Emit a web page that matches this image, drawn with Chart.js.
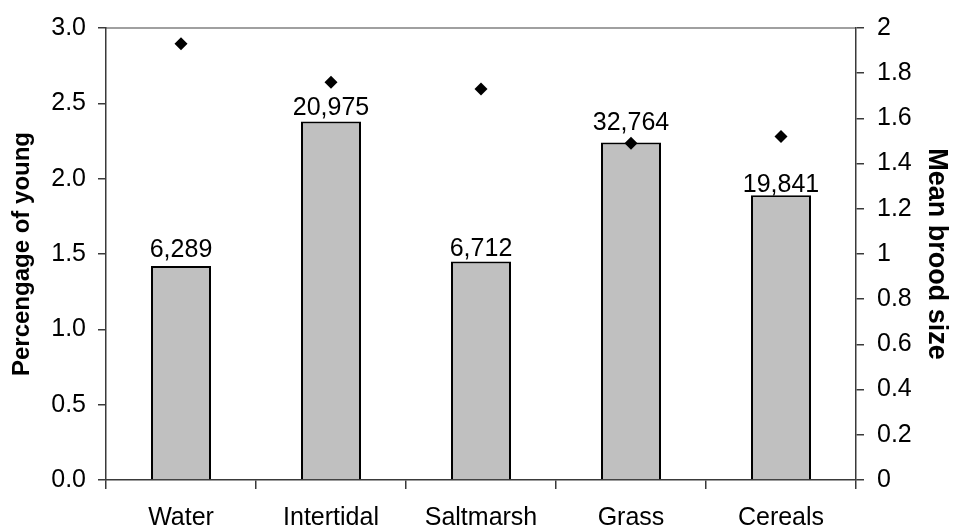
<!DOCTYPE html>
<html>
<head>
<meta charset="utf-8">
<script src="https://cdn.jsdelivr.net/npm/chart.js@4/dist/chart.umd.min.js"></script>
<style>
  html, body { margin: 0; padding: 0; background: #fff; }
  #wrap { width: 953px; height: 528px; }
</style>
</head>
<body>
<div id="wrap"><canvas id="chart" width="953" height="528"></canvas></div>
<script>
// habitat categories
const habitats = ['Water', 'Intertidal', 'Saltmarsh', 'Grass', 'Cereals'];
// percentage of young (left axis, bars)
const youngPct = [1.42, 2.38, 1.45, 2.24, 1.89];
// mean brood size (right axis, diamonds)
const broodSize = [1.93, 1.76, 1.73, 1.49, 1.52];
// number of birds counted, printed above each bar
const birdCounts = ['6,289', '20,975', '6,712', '32,764', '19,841'];

const FONT = "'Liberation Sans', Arial, sans-serif";
const AXIS = '#3a3a3a';

// count labels above the bars, plus the light top frame line
const countLabels = {
  id: 'countLabels',
  afterDatasetsDraw(chart, args, opts) {
    const { ctx } = chart;
    const barIndex = chart.data.datasets.findIndex(d => d.type === 'bar');
    const meta = chart.getDatasetMeta(barIndex);
    ctx.save();
    ctx.font = '25px ' + FONT;
    ctx.fillStyle = '#000';
    ctx.textAlign = 'center';
    ctx.textBaseline = 'alphabetic';
    meta.data.forEach((bar, i) => {
      const lift = opts.lift[i] ?? 6;
      ctx.fillText(birdCounts[i], bar.x, bar.y - lift);
    });
    ctx.restore();
  },
  beforeDraw(chart) {
    const { ctx, chartArea } = chart;
    ctx.save();
    ctx.strokeStyle = '#808080';
    ctx.lineWidth = 1.5;
    ctx.beginPath();
    ctx.moveTo(chartArea.left, chartArea.top);
    ctx.lineTo(chartArea.right, chartArea.top);
    ctx.stroke();
    ctx.restore();
  }
};

new Chart(document.getElementById('chart'), {
  type: 'bar',
  data: {
    labels: habitats,
    datasets: [
      {
        type: 'line',
        label: 'Mean brood size',
        data: broodSize,
        yAxisID: 'y1',
        showLine: false,
        pointStyle: 'rectRot',
        pointRadius: 6.5,
        pointBackgroundColor: '#000',
        pointBorderColor: '#000',
        pointBorderWidth: 0,
        order: 0
      },
      {
        type: 'bar',
        label: 'Percentage of young',
        data: youngPct,
        yAxisID: 'y',
        backgroundColor: '#c0c0c0',
        borderColor: '#000',
        borderWidth: 2,
        categoryPercentage: 1,
        barPercentage: 0.4,
        order: 1
      }
    ]
  },
  options: {
    responsive: false,
    animation: false,
    layout: { padding: { top: 25, left: 0, right: 0, bottom: 0 } },
    plugins: {
      legend: { display: false },
      tooltip: { enabled: false },
      countLabels: { lift: [9.5, 6.3, 5.7, 12.4, 3.7] }
    },
    scales: {
      x: {
        offset: true,
        grid: {
          offset: true,
          drawOnChartArea: false,
          drawTicks: true,
          tickLength: 9,
          color: AXIS,
          lineWidth: 1.5
        },
        border: { color: AXIS, width: 1.5 },
        ticks: { color: '#000', font: { family: FONT, size: 25 }, padding: 14 },
        afterFit(scale) { scale.height = 48; }
      },
      y: {
        position: 'left',
        min: 0,
        max: 3,
        ticks: {
          stepSize: 0.5,
          color: '#000',
          font: { family: FONT, size: 25 },
          padding: 12,
          callback: v => v.toFixed(1)
        },
        grid: { drawOnChartArea: false, tickLength: 8, color: AXIS, lineWidth: 1.5 },
        border: { color: AXIS, width: 1.5 },
        title: {
          display: true,
          text: 'Percengage of young',
          color: '#000',
          font: { family: FONT, size: 24, weight: 'bold' },
          padding: { top: 8, bottom: 0 }
        },
        afterFit(scale) { scale.width = 106; }
      },
      y1: {
        position: 'right',
        min: 0,
        max: 2,
        ticks: {
          stepSize: 0.2,
          color: '#000',
          font: { family: FONT, size: 25 },
          padding: 13,
          callback: v => String(Math.round(v * 10) / 10)
        },
        grid: { drawOnChartArea: false, tickLength: 8, color: AXIS, lineWidth: 1.5 },
        border: { color: AXIS, width: 1.5 },
        title: {
          display: true,
          text: 'Mean brood size',
          color: '#000',
          font: { family: FONT, size: 27, weight: 'bold' },
          padding: { top: 0, bottom: 0 }
        },
        afterFit(scale) { scale.width = 97; }
      }
    }
  },
  plugins: [countLabels]
});
</script>
</body>
</html>
